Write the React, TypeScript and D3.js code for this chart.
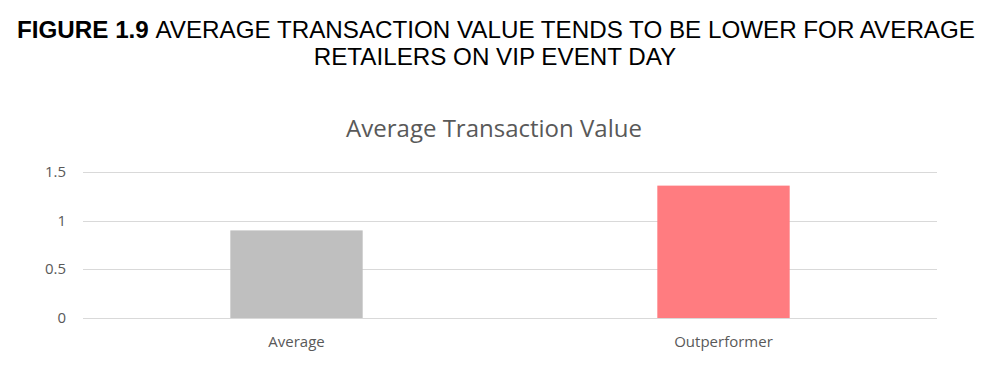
import { useEffect, useRef } from "react";
import * as d3 from "d3";

const categories = ["Average", "Outperformer"];
const values = [0.9, 1.36];
const barColors = ["#bfbfbf", "#ff7c80"];
const yTicks = [0, 0.5, 1, 1.5];

const W = 997;
const H = 390;
const margin = { left: 83, right: 60, top: 172, bottom: 72 };

export default function App() {
  const svgRef = useRef<SVGSVGElement>(null);

  useEffect(() => {
    const svg = d3.select(svgRef.current);
    if (!svg.node()) return;
    svg.selectAll("*").remove();

    const x = d3.scaleBand<string>()
      .domain(categories)
      .range([margin.left, W - margin.right])
      .paddingInner(0.69)
      .paddingOuter(0.345);

    const y = d3.scaleLinear()
      .domain([0, 1.5])
      .range([H - margin.bottom, margin.top]);

    // header
    const head = svg.append("text")
      .attr("x", 496)
      .attr("y", 38)
      .attr("text-anchor", "middle")
      .attr("font-family", "Liberation Sans, Arial, sans-serif")
      .attr("font-size", 24.2)
      .attr("fill", "#000");
    head.append("tspan").attr("font-weight", "bold").text("FIGURE 1.9 ");
    head.append("tspan").text("AVERAGE TRANSACTION VALUE TENDS TO BE LOWER FOR AVERAGE");
    svg.append("text")
      .attr("x", 495)
      .attr("y", 65)
      .attr("text-anchor", "middle")
      .attr("font-family", "Liberation Sans, Arial, sans-serif")
      .attr("font-size", 24.2)
      .attr("fill", "#000")
      .text("RETAILERS ON VIP EVENT DAY");

    // chart title
    svg.append("text")
      .attr("x", 494)
      .attr("y", 137)
      .attr("text-anchor", "middle")
      .attr("font-family", "Open Sans, sans-serif")
      .attr("font-size", 24)
      .attr("fill", "#595959")
      .text("Average Transaction Value");

    // gridlines
    svg.append("g")
      .selectAll("line")
      .data(yTicks)
      .join("line")
      .attr("x1", margin.left)
      .attr("x2", W - margin.right)
      .attr("y1", (d) => Math.round(y(d)) + 0.5)
      .attr("y2", (d) => Math.round(y(d)) + 0.5)
      .attr("stroke", "#d9d9d9")
      .attr("stroke-width", 1);

    // y tick labels
    svg.append("g")
      .selectAll("text")
      .data(yTicks)
      .join("text")
      .attr("x", 66)
      .attr("y", (d) => y(d) + 5)
      .attr("text-anchor", "end")
      .attr("font-family", "Open Sans, sans-serif")
      .attr("font-size", 15)
      .attr("fill", "#595959")
      .text((d) => String(d));

    // bars
    svg.append("g")
      .selectAll("rect")
      .data(categories)
      .join("rect")
      .attr("x", (d) => x(d)!)
      .attr("width", x.bandwidth())
      .attr("y", (d, i) => y(values[i]))
      .attr("height", (d, i) => y(0) - y(values[i]))
      .attr("fill", (d, i) => barColors[i]);

    // category labels
    svg.append("g")
      .selectAll("text")
      .data(categories)
      .join("text")
      .attr("x", (d) => x(d)! + x.bandwidth() / 2)
      .attr("y", H - margin.bottom + 29)
      .attr("text-anchor", "middle")
      .attr("font-family", "Open Sans, sans-serif")
      .attr("font-size", 15)
      .attr("fill", "#595959")
      .text((d) => d);
  }, []);

  return (
    <svg
      ref={svgRef}
      width={W}
      height={H}
      style={{ position: "absolute", left: 0, top: 0, background: "#fff" }}
    />
  );
}
